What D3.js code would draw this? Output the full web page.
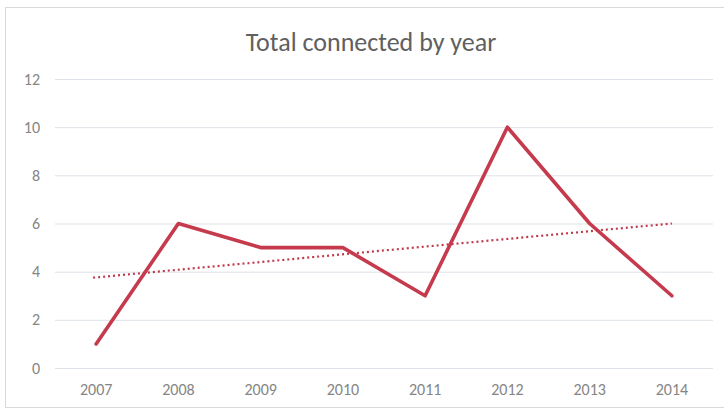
<!DOCTYPE html>
<html><head><meta charset="utf-8">
<script src="https://cdn.jsdelivr.net/npm/d3@7"></script>
<style>
html,body{margin:0;padding:0;background:#fff;}
svg{display:block;}
</style>
</head><body>
<svg id="c" width="724" height="411"></svg>
<script>
const title = "Total connected by year";
const years = ["2007","2008","2009","2010","2011","2012","2013","2014"];
const values = [1, 6, 5, 5, 3, 10, 6, 3];
const yTicks = [0, 2, 4, 6, 8, 10, 12];

const svg = d3.select("#c");
const W = 724, H = 411;
const m = {left: 55, right: 11, top: 79, bottom: 43};
const font = "Carlito, Lato, 'Open Sans', sans-serif";

// frame
svg.append("rect").attr("x", 5.5).attr("y", 7.5).attr("width", 730).attr("height", 400)
  .attr("fill", "#fff").attr("stroke", "#d9d9d9").attr("stroke-width", 1);

const x = d3.scaleBand().domain(years).range([m.left, W - m.right]);
const y = d3.scaleLinear().domain([0, 12]).range([H - m.bottom, m.top]);

// gridlines
const yAxis = d3.axisLeft(y).tickValues(yTicks).tickSize(-(W - m.right - m.left)).tickPadding(15);
const gy = svg.append("g").attr("transform", `translate(${m.left},0)`).call(yAxis);
gy.select(".domain").remove();
gy.selectAll(".tick line").attr("stroke", "#dde2e8").attr("stroke-width", 1);
gy.selectAll(".tick text").attr("fill", "#858585").attr("font-size", 16).attr("font-family", font);

const xAxis = d3.axisBottom(x).tickSize(0).tickPadding(16);
const gx = svg.append("g").attr("transform", `translate(0,${H - m.bottom})`).call(xAxis);
gx.select(".domain").remove();
gx.selectAll(".tick text").attr("fill", "#858585").attr("font-size", 16).attr("font-family", font);

const cx = d => x(d) + x.bandwidth() / 2;

// linear trendline (least squares over index)
const n = values.length;
const xs = values.map((_, i) => i + 1);
const mx = d3.mean(xs), my = d3.mean(values);
const slope = d3.sum(xs.map((xi, i) => (xi - mx) * (values[i] - my))) / d3.sum(xs.map(xi => (xi - mx) ** 2));
const icpt = my - slope * mx;
const trend = [0, n - 1].map(i => ({yr: years[i], v: icpt + slope * (i + 1)}));

svg.append("path").datum(trend)
  .attr("d", d3.line().x(d => cx(d.yr) - (d.yr === years[0] ? 3 : 0)).y(d => y(d.v)))
  .attr("fill", "none").attr("stroke", "#c0394b").attr("stroke-width", 2.2)
  .attr("stroke-dasharray", "2,3");

svg.append("path").datum(values)
  .attr("d", d3.line().x((d, i) => cx(years[i])).y(d => y(d)))
  .attr("fill", "none").attr("stroke", "#c53a4c").attr("stroke-width", 3.6)
  .attr("stroke-linejoin", "round").attr("stroke-linecap", "round");

svg.append("text").attr("x", 371).attr("y", 51).attr("text-anchor", "middle")
  .attr("fill", "#606060").attr("font-size", 26).attr("font-weight", 300)
  .attr("font-family", font).text(title);
</script>
</body></html>
